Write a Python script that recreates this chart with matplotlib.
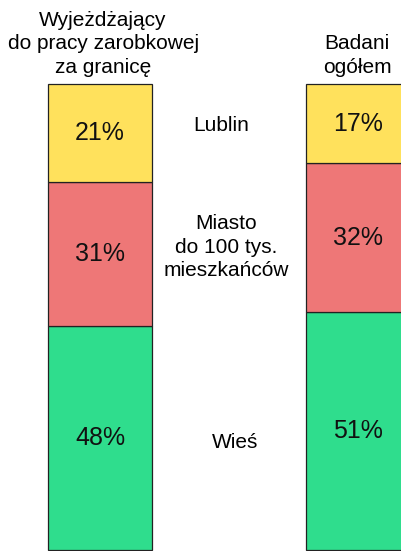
"""Struktura miejsca zamieszkania: wyjeżdżający do pracy za granicę vs badani ogółem."""

import matplotlib

matplotlib.use("Agg")
import matplotlib.pyplot as plt

plt.rcParams["font.family"] = ["Liberation Sans", "DejaVu Sans"]

# Dane (kolejność od dołu słupka do góry)
groups = ["Wyjeżdżający\ndo pracy zarobkowej\nza granicę", "Badani\nogółem"]
categories = ["Wieś", "Miasto\ndo 100 tys.\nmieszkańców", "Lublin"]
values_abroad = [48, 31, 21]
values_all = [51, 32, 17]

colors = ["#2fdd8d", "#ee7777", "#ffe15c"]

fig = plt.figure(figsize=(4.02, 5.51), dpi=100)
ax = fig.add_axes([0, 0, 1, 1])
ax.set_xlim(-0.387, 1.169)
ax.set_ylim(-0.21, 118.03)
ax.axis("off")

x_pos = [0, 1]
width = 0.403
for x, vals in zip(x_pos, [values_abroad, values_all]):
    bottom = 0
    for v, c in zip(vals, colors):
        ax.bar(x, v, width=width, bottom=bottom, color=c,
               edgecolor="#222222", linewidth=0.9)
        ax.text(x, bottom + v / 2, f"{v}%", ha="center", va="center",
                fontsize=18, color="#111111")
        bottom += v

# Tytuły kolumn
ax.text(0.012, 101.6, groups[0], ha="center", va="bottom",
        multialignment="center", fontsize=15, linespacing=1.3)
ax.text(0.995, 101.6, groups[1], ha="center", va="bottom",
        multialignment="center", fontsize=15, linespacing=1.3)

# Etykiety kategorii pomiędzy słupkami
label_xy = [(0.523, 23.0), (0.488, 65.0), (0.468, 91.0)]
for (lx, ly), name in zip(label_xy, categories):
    ax.text(lx, ly, name, ha="center", va="center",
            multialignment="center", fontsize=15, linespacing=1.3)

fig.savefig("out.png", dpi=100)
